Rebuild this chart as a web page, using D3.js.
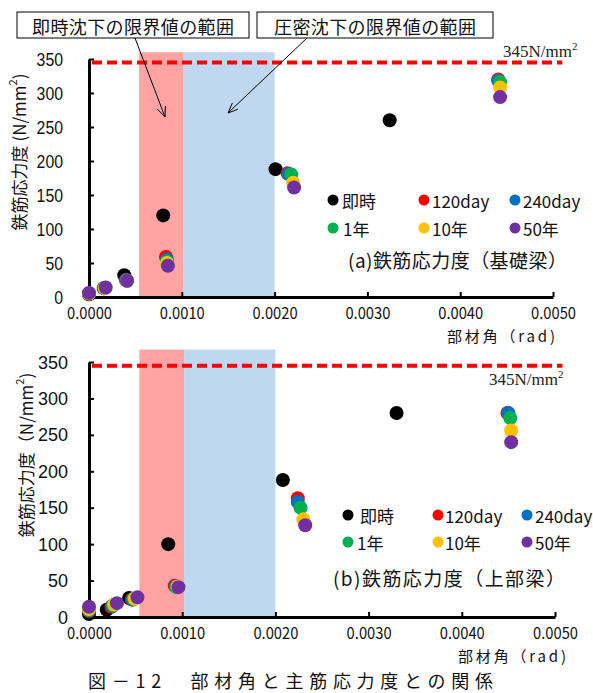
<!DOCTYPE html>
<html><head><meta charset="utf-8">
<script src="https://cdn.jsdelivr.net/npm/d3@7/dist/d3.min.js"></script>
<style>body{margin:0;background:#fff}</style>
</head><body>
<svg id="chart" width="593" height="693"></svg>
<script>
// series and values
var seriesNames = ["即時", "120day", "240day", "1年", "10年", "50年"];
var seriesColors = ["#000000", "#ff0000", "#0070c0", "#00b050", "#ffc000", "#7030a0"];
var xTicks = [0, 0.001, 0.002, 0.003, 0.004, 0.005];
var yTicks = [0, 50, 100, 150, 200, 250, 300, 350];
var limitValue = 345;
var bandImmediate = [0.00054, 0.00102];
var bandConsol = [0.00102, 0.0020];

// (a) 基礎梁
var dataA = [
  [[0, 4], [0.00038, 32], [0.0008, 120], [0.00201, 188], [0.00324, 260]],
  [[0, 5], [0.00016, 13], [0.0004, 25], [0.00083, 59], [0.00214, 182], [0.00441, 320]],
  [[0, 5], [0.00016, 13], [0.0004, 25], [0.00084, 55], [0.00215, 181], [0.00441, 318]],
  [[0, 5], [0.00017, 13], [0.00041, 24], [0.00084, 52], [0.00218, 180], [0.00443, 316]],
  [[0, 5], [0.00017, 13], [0.00041, 24], [0.00084, 50], [0.0022, 168], [0.00443, 308]],
  [[0, 6], [0.00018, 14], [0.00041, 24], [0.00085, 46], [0.00221, 161], [0.00443, 294]]
];
// (b) 上部梁
var dataB = [
  [[0, 4], [0.00019, 10], [0.00043, 26], [0.00085, 100], [0.00208, 188], [0.0033, 280]],
  [[0, 8], [0.00024, 14], [0.00046, 24], [0.00092, 43], [0.00224, 163], [0.00449, 280]],
  [[0, 9], [0.00025, 15], [0.00047, 24], [0.00093, 42], [0.00224, 158], [0.0045, 280]],
  [[0, 10], [0.00026, 16], [0.00048, 25], [0.00094, 41], [0.00227, 150], [0.00452, 273]],
  [[0, 11], [0.00027, 17], [0.00049, 25], [0.00095, 42], [0.0023, 134], [0.00453, 256]],
  [[0, 14], [0.0003, 19], [0.00052, 27], [0.00096, 41], [0.00232, 126], [0.00453, 240]]
];

var jp = "'Noto Sans CJK JP', sans-serif";
var svg = d3.select("#chart");

var panels = [
  {data: dataA, left: 89, right: 553, top: 59, bottom: 297, bandTop: 360,
   yPad: 26, yCharW: 8.8, yLabX: 18, yLabY: 152, paren: [" (", ")"],
   limX: 503, limY: 57, limEnd: 0.0051,
   legRows: [200, 228], legCols: [333, 424, 515], legDx: [9, 8, 8, 10, 8, 8],
   sub: "(a)鉄筋応力度（基礎梁）", subX: 348, subY: 268, subW: 219,
   xTitX: 447, xTitY: 342},
  {data: dataB, left: 89, right: 555, top: 362, bottom: 617, bandTop: 367,
   yPad: 21, yCharW: 10, yLabX: 25, yLabY: 455, paren: ["（", ")"],
   limX: 489, limY: 385, limEnd: 0.00508,
   legRows: [515, 542], legCols: [348, 438, 527], legDx: [12, 7, 8, 9, 7, 8],
   sub: "(b)鉄筋応力度（上部梁）", subX: 333, subY: 586, subW: 232,
   xTitX: 458, xTitY: 661.5}
];

panels.forEach(function(p){
  var x = d3.scaleLinear().domain([0, 0.005]).range([p.left, p.right]);
  var y = d3.scaleLinear().domain([0, 350]).range([p.bottom, p.top]);
  var g = svg.append("g");

  // ranges of allowable settlement
  g.append("rect")
    .attr("x", x(bandImmediate[0])).attr("y", y(p.bandTop))
    .attr("width", x(bandImmediate[1]) - x(bandImmediate[0]))
    .attr("height", y(0) - y(p.bandTop))
    .attr("fill", "#ffa3a3");
  g.append("rect")
    .attr("x", x(bandConsol[0])).attr("y", y(p.bandTop))
    .attr("width", x(bandConsol[1]) - x(bandConsol[0]))
    .attr("height", y(0) - y(p.bandTop))
    .attr("fill", "#c0d8ef");

  // yield line
  g.append("line")
    .attr("x1", x(0) + 3).attr("x2", x(p.limEnd))
    .attr("y1", y(limitValue)).attr("y2", y(limitValue))
    .attr("stroke", "#ff0000").attr("stroke-width", 4)
    .attr("stroke-dasharray", "10,5");
  var lt = g.append("text")
    .attr("x", p.limX).attr("y", p.limY)
    .attr("font-family", "'Liberation Serif', serif").attr("font-size", 17)
    .attr("fill", "#222");
  lt.append("tspan").text("345N/mm");
  lt.append("tspan").attr("dy", -7).attr("font-size", 11).text("2");

  // axes
  var xa = g.append("g").attr("transform", "translate(0," + p.bottom + ")")
    .call(d3.axisBottom(x).tickValues(xTicks).tickFormat(d3.format(".4f"))
      .tickSizeInner(-5).tickSizeOuter(0).tickPadding(11));
  var ya = g.append("g").attr("transform", "translate(" + p.left + ",0)")
    .call(d3.axisLeft(y).tickValues(yTicks).tickSizeInner(-5).tickSizeOuter(0).tickPadding(p.yPad));
  [xa, ya].forEach(function(a){
    a.select(".domain").attr("stroke", "#000").attr("stroke-width", 3);
    a.selectAll(".tick line").attr("stroke", "#000").attr("stroke-width", 2);
  });
  xa.selectAll(".tick text").attr("font-family", jp).attr("font-size", 16)
    .attr("fill", "#111").attr("textLength", 45).attr("lengthAdjust", "spacingAndGlyphs");
  ya.selectAll(".tick text").attr("font-family", "'Liberation Sans', sans-serif")
    .attr("font-size", 19).attr("fill", "#111")
    .attr("textLength", function(d){ return String(d).length * p.yCharW; })
    .attr("lengthAdjust", "spacingAndGlyphs");

  // y title
  var yt = g.append("text")
    .attr("transform", "translate(" + p.yLabX + "," + p.yLabY + ") rotate(-90)")
    .attr("text-anchor", "middle").attr("dominant-baseline", "central")
    .attr("font-family", jp).attr("font-size", 17).attr("fill", "#111");
  yt.append("tspan").text("鉄筋応力度" + p.paren[0] + "N/mm");
  yt.append("tspan").attr("dy", -6).attr("font-size", 11).text("2");
  yt.append("tspan").attr("dy", 6).text(p.paren[1]);

  // x title
  g.append("text").attr("x", p.xTitX).attr("y", p.xTitY)
    .attr("font-family", jp).attr("font-size", 15).attr("fill", "#111")
    .attr("textLength", 108).attr("lengthAdjust", "spacing")
    .text("部材角（rad)");

  // points
  p.data.forEach(function(pts, i){
    g.append("g").selectAll("circle").data(pts).enter().append("circle")
      .attr("cx", function(d){ return x(d[0]); })
      .attr("cy", function(d){ return y(d[1]); })
      .attr("r", 7)
      .attr("fill", seriesColors[i]);
  });

  // legend
  seriesNames.forEach(function(name, i){
    var cx = p.legCols[i % 3], cy = p.legRows[Math.floor(i / 3)];
    g.append("circle").attr("cx", cx).attr("cy", cy).attr("r", 5.5).attr("fill", seriesColors[i]);
    g.append("text").attr("x", cx + p.legDx[i]).attr("y", cy)
      .attr("dominant-baseline", "central")
      .attr("font-family", jp).attr("font-size", 17).attr("fill", "#111")
      .text(name);
  });

  g.append("text").attr("x", p.subX).attr("y", p.subY)
    .attr("font-family", jp).attr("font-size", 19).attr("fill", "#111")
    .attr("textLength", p.subW).attr("lengthAdjust", "spacing")
    .text(p.sub);
});

// callouts
var callouts = [
  {x: 17, w: 232, text: "即時沈下の限界値の範囲", from: [135, 38], to: [165, 117]},
  {x: 257, w: 236, text: "圧密沈下の限界値の範囲", from: [307, 38], to: [228, 113]}
];
callouts.forEach(function(c){
  svg.append("rect").attr("x", c.x).attr("y", 12).attr("width", c.w).attr("height", 26)
    .attr("fill", "#fff").attr("stroke", "#000").attr("stroke-width", 1);
  svg.append("text").attr("x", c.x + c.w / 2).attr("y", 26)
    .attr("text-anchor", "middle").attr("dominant-baseline", "central")
    .attr("font-family", jp).attr("font-size", 18).attr("fill", "#111")
    .attr("textLength", 202).attr("lengthAdjust", "spacing")
    .text(c.text);
  svg.append("line").attr("x1", c.from[0]).attr("y1", c.from[1])
    .attr("x2", c.to[0]).attr("y2", c.to[1]).attr("stroke", "#000").attr("stroke-width", 1);
  var ang = Math.atan2(c.to[1] - c.from[1], c.to[0] - c.from[0]);
  var hl = 11, hw = 0.4;
  var pth = "M" + (c.to[0] - hl * Math.cos(ang - hw)) + "," + (c.to[1] - hl * Math.sin(ang - hw)) +
    "L" + c.to[0] + "," + c.to[1] +
    "L" + (c.to[0] - hl * Math.cos(ang + hw)) + "," + (c.to[1] - hl * Math.sin(ang + hw));
  svg.append("path").attr("d", pth).attr("fill", "none").attr("stroke", "#000").attr("stroke-width", 1);
});

svg.append("text").attr("x", 88).attr("y", 687.5)
  .attr("font-family", jp).attr("font-size", 18).attr("fill", "#111")
  .attr("textLength", 405).attr("lengthAdjust", "spacing")
  .text("図－12　部材角と主筋応力度との関係");
</script>
</body></html>
